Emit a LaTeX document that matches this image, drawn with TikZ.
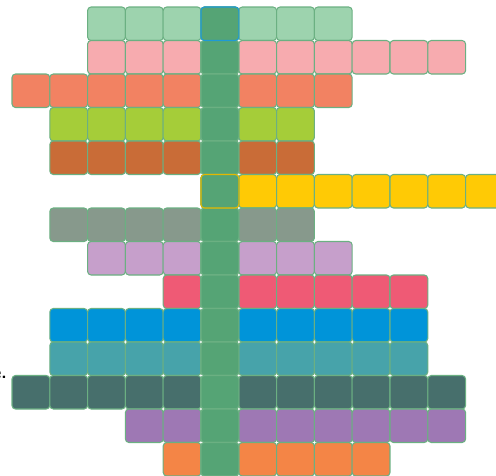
\documentclass[tikz,border=0pt]{standalone}
\definecolor{cellline}{RGB}{107,176,130}
\definecolor{midgreen}{RGB}{85,164,117}
\definecolor{mint}{RGB}{157,211,174}
\definecolor{rose}{RGB}{247,171,175}
\definecolor{salmon}{RGB}{242,130,98}
\definecolor{lime}{RGB}{165,205,57}
\definecolor{rust}{RGB}{201,108,55}
\definecolor{gold}{RGB}{255,202,5}
\definecolor{sage}{RGB}{135,153,140}
\definecolor{lilac}{RGB}{198,159,203}
\definecolor{coral}{RGB}{239,90,117}
\definecolor{azure}{RGB}{0,148,217}
\definecolor{teal}{RGB}{71,163,170}
\definecolor{slate}{RGB}{71,111,108}
\definecolor{violet}{RGB}{158,120,180}
\definecolor{tangerine}{RGB}{244,133,70}
\tikzset{
  cell/.style={rectangle, rounded corners=2pt, minimum width=0.756cm,
    minimum height=0.67cm, inner sep=0pt, draw=cellline, line width=0.6pt}
}
\begin{document}
\begin{tikzpicture}
  \useasboundingbox (0,0) rectangle (9.92,-9.52);
  % rows: index / colour / first column / last column
  \foreach \r/\clr/\a/\b in {0/mint/-3/3, 1/rose/-3/6, 2/salmon/-5/3, 3/lime/-4/2,
      4/rust/-4/2, 5/gold/0/7, 6/sage/-4/2, 7/lilac/-3/3, 8/coral/-1/5,
      9/azure/-4/5, 10/teal/-4/5, 11/slate/-5/6, 12/violet/-2/6, 13/tangerine/-1/4} {
    \foreach \k in {\a,...,\b}
      \node [cell, fill=\clr] (c\r-\k) at ({4.398+0.756*\k},{-0.475-0.67*\r}) {};
    % middle column
    \node [cell, fill=midgreen] (m\r) at (4.398,{-0.475-0.67*\r}) {};
  }
  \node [cell, fill=midgreen, draw={rgb,255:red,30; green,154; blue,214}] (m0) at (4.398,-0.475) {};
  \node [cell, fill=midgreen, draw={rgb,255:red,227; green,184; blue,0}] (m5) at (4.398,{-0.475-0.67*5}) {};
  \node [anchor=base east, inner sep=0pt, font=\sffamily\bfseries] (note) at (0.14,-7.56) {e.};
\end{tikzpicture}
\end{document}
